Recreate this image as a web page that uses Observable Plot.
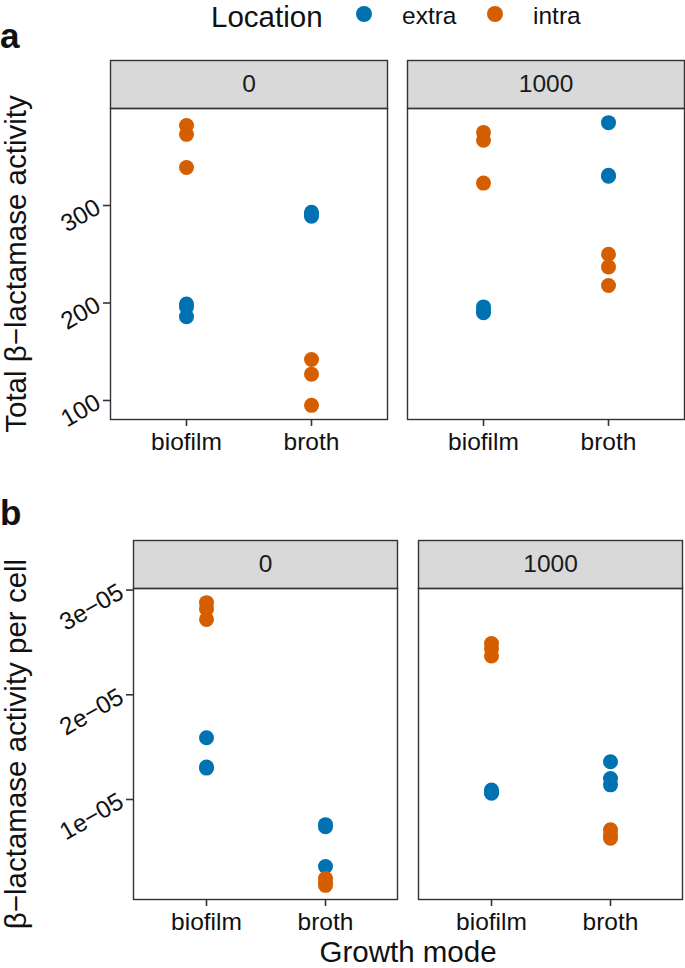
<!DOCTYPE html>
<html>
<head>
<meta charset="utf-8">
<script src="https://cdn.jsdelivr.net/npm/d3@7"></script>
<script src="https://cdn.jsdelivr.net/npm/@observablehq/plot@0.6"></script>
<style>
  body { margin: 0; background: #fff; font-family: "Liberation Sans", Arial, sans-serif; }
  #wrap { position: relative; width: 685px; height: 968px; overflow: hidden; background: #fff; }
  .abs { position: absolute; white-space: nowrap; line-height: 1; color: #111; }
  .panel { position: absolute; left: 0; }
  .dot { position: absolute; width: 16px; height: 16px; border-radius: 50%; }
</style>
</head>
<body>
<div id="wrap"></div>
<script>
// ---------- data ----------
const facets = ["0", "1000"];
const modes = ["biofilm", "broth"];
const locations = ["extra", "intra"];
const locationColors = ["#0072B2", "#D55E00"];

// [facet, growth mode, location, replicate values]
const totalActivity = [
  ["0", "biofilm", "extra", [199, 196, 186]],
  ["0", "biofilm", "intra", [382, 373, 339]],
  ["0", "broth", "extra", [293, 291, 289]],
  ["0", "broth", "intra", [142, 127, 95]],
  ["1000", "biofilm", "extra", [196, 192, 190]],
  ["1000", "biofilm", "intra", [375, 367, 323]],
  ["1000", "broth", "extra", [385, 331, 330]],
  ["1000", "broth", "intra", [250, 237, 218]]
];
const perCellActivity = [
  ["0", "biofilm", "extra", [1.59e-5, 1.31e-5, 1.30e-5]],
  ["0", "biofilm", "intra", [2.88e-5, 2.82e-5, 2.72e-5]],
  ["0", "broth", "extra", [0.76e-5, 0.74e-5, 0.36e-5]],
  ["0", "broth", "intra", [0.245e-5, 0.21e-5, 0.18e-5]],
  ["1000", "biofilm", "extra", [1.09e-5, 1.07e-5, 1.06e-5]],
  ["1000", "biofilm", "intra", [2.49e-5, 2.44e-5, 2.37e-5]],
  ["1000", "broth", "extra", [1.36e-5, 1.20e-5, 1.14e-5]],
  ["1000", "broth", "intra", [0.71e-5, 0.66e-5, 0.63e-5]]
];

const totalTicks = [100, 200, 300];
const totalTickLabels = ["100", "200", "300"];
const perCellTicks = [1e-5, 2e-5, 3e-5];
const perCellTickLabels = ["1e\u221205", "2e\u221205", "3e\u221205"];

const legendTitle = "Location";
const titleA = "Total \u03b2\u2212lactamase activity";
const titleB = "\u03b2\u2212lactamase activity per cell";
const xTitle = "Growth mode";

// ---------- helpers ----------
function toRows(table) {
  return table.flatMap(([facet, mode, location, values]) =>
    values.map(value => ({facet, mode, location, value})));
}
function expanded(rows) {
  const [lo, hi] = d3.extent(rows, d => d.value);
  const pad = (hi - lo) * 0.05;
  return [lo - pad, hi + pad];
}

const wrap = document.getElementById("wrap");
function addText(txt, {left, top, size, weight = "normal", css = ""}) {
  const el = document.createElement("div");
  el.className = "abs";
  el.textContent = txt;
  el.style.cssText += `left:${left}px;top:${top}px;font-size:${size}px;font-weight:${weight};${css}`;
  wrap.appendChild(el);
  return el;
}

const tickFs = 24.5;
const titleFs = 29.5;

function facetPanel({rows, ticks, tickLabels, top, height, mt, mb, ml, mr, padInner}) {
  const frameH = height - mt - mb;
  const fs = tickFs;
  const chart = Plot.plot({
    width: 685,
    height,
    marginTop: mt,
    marginBottom: mb,
    marginLeft: ml,
    marginRight: mr,
    style: {fontFamily: "Liberation Sans, Arial, sans-serif", fontSize: fs + "px", color: "#111", background: "transparent", overflow: "visible"},
    fx: {domain: facets, paddingInner: padInner, paddingOuter: 0, axis: null, label: null},
    x: {type: "point", domain: modes, padding: 0.6, label: null},
    y: {domain: expanded(rows), nice: false, label: null},
    color: {domain: locations, range: locationColors},
    marks: [
      // strip
      Plot.frame({fill: "#D9D9D9", stroke: "#333333", strokeWidth: 1.4, insetTop: -48, insetBottom: frameH}),
      Plot.text(facets, {fx: d => d, text: d => d, frameAnchor: "top", dy: -24, lineAnchor: "middle", fontSize: fs, fill: "#1a1a1a"}),
      // panel border
      Plot.frame({stroke: "#333333", strokeWidth: 1.4}),
      Plot.axisY({ticks, tickFormat: (d) => tickLabels[ticks.indexOf(d)], tickSize: 7, tickPadding: 5, tickRotate: -30,
        textAnchor: "end", lineAnchor: "middle", fontSize: fs, stroke: "#333333", strokeWidth: 1.6, fill: "#111", label: null}),
      Plot.axisX({tickSize: 7, tickPadding: 6.5, fontSize: fs, stroke: "#333333", strokeWidth: 1.6, fill: "#111", label: null}),
      Plot.dot(rows, {fx: "facet", x: "mode", y: "value", fill: "location", r: 7.5})
    ]
  });
  chart.classList.add("panel");
  chart.style.top = top + "px";
  chart.style.position = "absolute";
  chart.style.left = "0px";
  wrap.appendChild(chart);
}

// ---------- panels ----------
facetPanel({rows: toRows(totalActivity), ticks: totalTicks, tickLabels: totalTickLabels,
  top: 56, height: 414, mt: 52, mb: 51, ml: 110, mr: 1, padInner: 20 / 297});
facetPanel({rows: toRows(perCellActivity), ticks: perCellTicks, tickLabels: perCellTickLabels,
  top: 536, height: 432, mt: 52, mb: 69, ml: 133, mr: 2, padInner: 21 / 285.5});

// ---------- texts ----------
addText("a", {left: 0, top: 18.4, size: 35, weight: "bold"});
addText("b", {left: 0, top: 495.4, size: 35, weight: "bold"});

const rot = "transform:translate(-50%,-50%) rotate(-90deg);";
addText(titleA, {left: 15.5, top: 263.5, size: titleFs, css: rot});
addText(titleB, {left: 15.5, top: 743.5, size: titleFs, css: rot});
addText(xTitle, {left: 408, top: 962 - 0.8465 * titleFs, size: titleFs, css: "transform:translateX(-50%);"});

// ---------- legend ----------
addText(legendTitle, {left: 211, top: 2, size: titleFs});
const legendDotX = [364, 495];
const legendTextX = [402, 533];
locations.forEach((loc, i) => {
  const dot = document.createElement("div");
  dot.className = "dot";
  dot.style.left = (legendDotX[i] - 8) + "px";
  dot.style.top = (14 - 8) + "px";
  dot.style.background = locationColors[i];
  wrap.appendChild(dot);
  addText(loc, {left: legendTextX[i], top: 3.5, size: tickFs});
});
</script>
</body>
</html>
